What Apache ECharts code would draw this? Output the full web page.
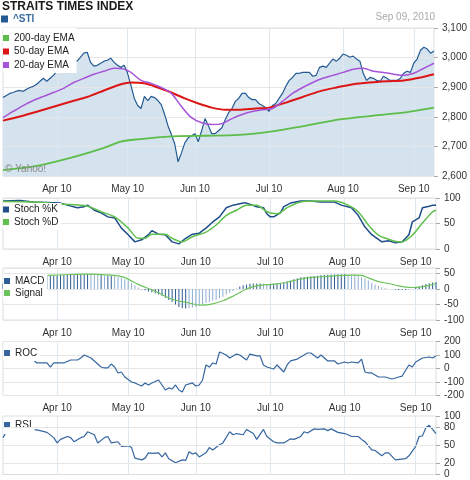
<!DOCTYPE html>
<html><head><meta charset="utf-8">
<script src="https://cdn.jsdelivr.net/npm/echarts@6/dist/echarts.min.js"></script>
<style>html,body{margin:0;padding:0;background:#fff}#c{width:470px;height:480px}</style>
</head><body><div id="c"></div>
<script>
// ---------- categories: SGX trading days, 10 Mar 2010 - 9 Sep 2010 ----------
const holidays = ['2010-04-02', '2010-05-28', '2010-08-09'];
const tradingDays = [];
for (let t = Date.UTC(2010, 2, 10); t <= Date.UTC(2010, 8, 9); t += 86400000) {
  const d = new Date(t), wd = d.getUTCDay(), s = d.toISOString().slice(0, 10);
  if (wd === 0 || wd === 6 || holidays.includes(s)) continue;
  tradingDays.push(s);
}
const monthLabels = ['Apr 10', 'May 10', 'Jun 10', 'Jul 10', 'Aug 10', 'Sep 10'];
const stiTicks = [2600, 2700, 2800, 2900, 3000, 3100];
const stochTicks = [0, 50, 100];
const macdTicks = [-100, -50, 0, 50];
const rocTicks = [-200, -100, 0, 100, 200];
const rsiTicks = [0, 20, 50, 80, 100];

// ---------- series values ----------
const sti = [2865, 2872, 2879, 2882, 2887, 2889, 2886, 2893, 2899, 2903,
  2910, 2920, 2930, 2920, 2930, 2940, 2954, 2964, 2971, 2978,
  2984, 2995, 2988, 3001, 3015, 3018, 2984, 2971, 2974, 2981,
  2988, 2991, 2998, 2984, 2974, 2967, 2974, 2947, 2906, 2862,
  2838, 2828, 2869, 2855, 2869, 2865, 2855, 2841, 2808, 2770,
  2740, 2709, 2648, 2678, 2712, 2729, 2736, 2743, 2716, 2753,
  2794, 2770, 2743, 2743, 2753, 2763, 2790, 2814, 2828, 2852,
  2862, 2879, 2879, 2865, 2858, 2858, 2845, 2838, 2831, 2818,
  2838, 2845, 2862, 2879, 2903, 2923, 2933, 2947, 2947, 2950,
  2950, 2950, 2937, 2940, 2967, 2971, 2967, 2981, 2995, 2988,
  2998, 3012, 3008, 3001, 3005, 2995, 2988, 2947, 2923, 2933,
  2930, 2923, 2920, 2937, 2930, 2923, 2923, 2923, 2930, 2947,
  2954, 2950, 2981, 2995, 3025, 3035, 3029, 3015, 3022];
const ema200 = [[0, 2620], [10, 2634], [20, 2661], [30, 2695], [35, 2716], [40, 2724], [50, 2734], [60, 2736], [70, 2739], [80, 2751], [90, 2770], [100, 2791], [110, 2804], [120, 2816], [128, 2831]];
const ema50 = [[0, 2787], [5, 2801], [10, 2817], [15, 2834], [20, 2851], [25, 2867], [30, 2889], [35, 2910], [38, 2916], [42, 2913], [46, 2899], [50, 2882], [54, 2862], [58, 2845], [62, 2831], [66, 2824], [70, 2824], [75, 2828], [79, 2831], [84, 2848], [89, 2867], [94, 2886], [99, 2899], [104, 2910], [109, 2916], [114, 2920], [119, 2923], [124, 2933], [128, 2944]];
const ema20 = [[0, 2797], [3, 2818], [6, 2838], [9, 2855], [12, 2869], [15, 2882], [18, 2896], [21, 2916], [24, 2930], [27, 2944], [30, 2954], [33, 2964], [36, 2961], [38, 2950], [41, 2923], [44, 2913], [47, 2899], [50, 2879], [53, 2835], [56, 2797], [59, 2780], [62, 2774], [65, 2777], [68, 2794], [71, 2808], [74, 2818], [77, 2824], [80, 2828], [83, 2852], [86, 2879], [89, 2899], [92, 2916], [95, 2930], [98, 2940], [101, 2950], [104, 2961], [107, 2964], [110, 2954], [113, 2950], [116, 2944], [119, 2940], [122, 2947], [125, 2964], [128, 2981]];
const stochK = [[0, 94], [5, 95], [9, 92], [17, 90], [19, 86], [22, 81], [24, 83], [25, 86], [27, 76], [29, 71], [31, 63], [33, 61], [35, 41], [37, 28], [39, 14], [41, 18], [43, 28], [44, 36], [46, 29], [48, 28], [50, 14], [52, 10], [54, 21], [56, 29], [58, 31], [60, 41], [62, 53], [64, 63], [66, 81], [68, 86], [71, 90], [72, 90], [75, 83], [77, 81], [78, 69], [79, 63], [80, 63], [82, 71], [83, 83], [85, 90], [88, 94], [91, 94], [94, 92], [98, 92], [100, 86], [103, 81], [105, 66], [107, 43], [109, 28], [112, 14], [114, 16], [116, 12], [118, 14], [120, 28], [121, 53], [123, 61], [124, 81], [126, 84], [127, 86], [128, 86]];
const stochD = [[0, 93], [9, 92], [17, 88], [25, 84], [29, 73], [33, 63], [37, 41], [40, 21], [42, 21], [44, 29], [48, 29], [50, 21], [53, 14], [56, 24], [60, 33], [63, 47], [66, 66], [69, 76], [72, 86], [75, 86], [78, 73], [81, 69], [84, 81], [88, 92], [93, 94], [98, 94], [102, 86], [105, 73], [108, 47], [111, 27], [114, 19], [117, 14], [118, 14], [121, 27], [124, 51], [127, 73], [128, 76]];
const macd = [18, 20, 22, 25, 27, 29, 31, 33, 35, 36, 37, 38,
  40, 41, 42, 43, 44, 45, 45, 46, 46, 47, 47, 48,
  49, 49, 48, 46, 45, 45, 44, 44, 44, 42, 39, 36,
  32, 27, 20, 12, 5, -2, -4, -8, -10, -14, -18, -22,
  -28, -35, -42, -50, -58, -62, -63, -62, -60, -58, -55, -50,
  -45, -42, -38, -35, -30, -25, -18, -12, -6, 2, 8, 12,
  15, 17, 18, 18, 18, 17, 16, 16, 17, 18, 19, 20,
  24, 28, 32, 35, 38, 39, 40, 41, 42, 43, 45, 46,
  46, 47, 47, 48, 48, 49, 48, 47, 46, 44, 38, 34,
  28, 20, 15, 10, 6, 3, 1, 0, -2, -3, -3, -3,
  -2, 0, 4, 8, 12, 16, 19, 21, 23];
const signal = [[0, 8], [3, 20], [6, 30], [9, 37], [12, 42], [15, 45], [20, 47], [25, 48], [30, 46], [33, 44], [36, 37], [40, 15], [45, -7], [50, -33], [55, -45], [57, -50], [59, -52], [62, -48], [65, -38], [68, -23], [69, -17], [72, 0], [75, 10], [78, 14], [81, 17], [84, 22], [87, 30], [90, 36], [93, 39], [97, 42], [101, 44], [104, 45], [106, 44], [108, 36], [111, 24], [114, 18], [117, 10], [119, 6], [121, 5], [124, 8], [126, 12], [128, 18]];
const roc = [[0, 100], [3, 90], [6, 75], [9, 63], [10, 41], [13, 41], [14, 11], [15, 41], [18, 41], [20, 63], [22, 63], [23, 78], [24, 100], [26, 78], [27, 56], [29, 11], [30, 4], [31, 4], [32, 33], [33, 11], [34, -33], [35, -26], [36, -63], [38, -100], [39, -107], [41, -130], [42, -107], [43, -122], [44, -107], [46, -85], [47, -122], [48, -159], [49, -144], [50, -152], [51, -122], [52, -159], [53, -174], [54, -122], [56, -107], [57, -130], [58, -122], [59, -85], [60, 26], [61, 11], [62, 41], [63, 33], [64, 122], [66, 100], [67, 78], [69, 107], [70, 100], [72, 63], [73, 107], [75, 93], [76, 93], [77, 26], [78, 11], [80, -4], [81, 26], [83, -26], [84, 26], [85, 56], [87, 70], [88, 85], [90, 115], [91, 115], [93, 78], [94, 100], [96, 56], [98, 56], [99, 33], [101, 48], [102, 41], [103, 48], [105, 41], [106, 70], [107, -26], [108, -33], [109, -33], [111, -63], [113, -63], [115, -78], [117, -63], [118, -56], [120, 26], [121, 11], [122, 48], [124, 78], [126, 85], [127, 78], [128, 93]];
const rsi = [[0, 63], [1, 73], [2, 78], [4, 76], [9, 77], [11, 75], [13, 72], [15, 63], [16, 54], [17, 60], [19, 65], [20, 63], [21, 56], [23, 63], [24, 65], [25, 73], [27, 68], [28, 54], [30, 63], [31, 65], [32, 54], [34, 56], [35, 48], [37, 49], [38, 46], [39, 28], [41, 25], [42, 28], [43, 37], [44, 36], [46, 37], [47, 30], [48, 37], [49, 27], [51, 20], [53, 25], [54, 24], [55, 39], [56, 35], [57, 37], [58, 30], [60, 37], [61, 46], [62, 42], [64, 51], [65, 54], [67, 73], [68, 68], [69, 70], [71, 68], [72, 77], [74, 70], [75, 60], [77, 77], [78, 65], [80, 56], [81, 54], [83, 54], [85, 61], [86, 60], [88, 65], [89, 73], [90, 71], [92, 78], [93, 77], [95, 78], [96, 75], [97, 78], [99, 72], [101, 70], [102, 68], [103, 65], [105, 65], [106, 60], [107, 56], [109, 42], [110, 41], [112, 32], [113, 37], [114, 37], [116, 25], [119, 27], [120, 32], [122, 48], [123, 65], [124, 66], [125, 80], [126, 84], [127, 77], [128, 70]];

// ---------- chart ----------
const monthStartIdx = tradingDays
  .map((d, i) => (i > 0 && d.slice(5, 7) !== tradingDays[i - 1].slice(5, 7)) ? i : -1)
  .filter(i => i >= 0);
const isMonthStart = i => monthStartIdx.includes(i);

const FONT = '"Liberation Sans", Arial, sans-serif';
const grids = [
  { top: 28, height: 148 },
  { top: 198, height: 51 },
  { top: 268, height: 52 },
  { top: 341.5, height: 54 },
  { top: 416, height: 58.5 }
];
const xAxes = grids.map((g, k) => ({
  type: 'category', gridIndex: k, data: tradingDays, boundaryGap: false, z: 2,
  axisLine: { show: false }, axisTick: { show: false },
  axisLabel: {
    show: k < 4, interval: (i) => isMonthStart(i),
    formatter: (v, i) => monthLabels[monthStartIdx.indexOf(i)] || '',
    color: '#333', fontSize: 10, fontFamily: FONT, margin: 8
  },
  splitLine: { show: true, interval: (i) => isMonthStart(i), lineStyle: { color: '#dfe7ef', width: 1 } }
}));
const labelBase = { color: '#333', fontSize: 10, fontFamily: FONT, margin: 8 };
const yBase = (k, extra) => Object.assign({
  type: 'value', gridIndex: k, position: 'right', z: 2,
  axisLine: { show: false },
  axisTick: { show: true, length: 4, lineStyle: { color: '#aaa' } },
  axisLabel: labelBase,
  splitLine: { show: true, lineStyle: { color: '#e6e6e6', width: 1 } }
}, extra);
const yAxes = [
  yBase(0, { min: stiTicks[0], max: stiTicks[stiTicks.length - 1], interval: 100,
    axisLabel: Object.assign({}, labelBase, { formatter: v => v.toLocaleString('en-US') }) }),
  yBase(1, { min: stochTicks[0], max: stochTicks[stochTicks.length - 1], interval: 50 }),
  yBase(2, { min: -100, max: 68, interval: 50,
    axisLabel: Object.assign({}, labelBase, { formatter: v => macdTicks.includes(v) ? String(v) : '' }) }),
  yBase(3, { min: rocTicks[0], max: rocTicks[rocTicks.length - 1], interval: 100 }),
  yBase(4, { min: 0, max: 100,
    axisTick: { show: true, length: 4, lineStyle: { color: '#aaa' }, customValues: rsiTicks },
    axisLabel: Object.assign({}, labelBase, { customValues: rsiTicks }),
    splitLine: { show: false } })
];

const line = (name, data, xi, color, width, extra) => Object.assign({
  name, type: 'line', data, xAxisIndex: xi, yAxisIndex: xi, symbol: 'none', z: 3,
  lineStyle: { color, width }, itemStyle: { color }
}, extra || {});

const legendText = { fontSize: 10, lineHeight: 12, color: '#222', fontFamily: FONT };
const option = {
  animation: false,
  backgroundColor: '#fff',
  grid: grids.map(g => ({ left: 3, right: 34, top: g.top, height: g.height, show: true, borderColor: '#d9dde2', borderWidth: 1 })),
  xAxis: xAxes,
  yAxis: yAxes,
  legend: [
    { data: ['^STI'], left: 1, top: 13, padding: 0, itemWidth: 7, itemHeight: 7, icon: 'rect',
      textStyle: { fontSize: 10, lineHeight: 12, fontWeight: 'bold', color: '#3a6c9f', fontFamily: FONT } },
    { data: ['200-day EMA', '50-day EMA', '20-day EMA'], orient: 'vertical', left: 3, top: 28, padding: [4, 2, 2, 0],
      itemGap: 1.5, itemWidth: 6, itemHeight: 6, icon: 'rect', backgroundColor: '#fff', textStyle: legendText },
    { data: ['Stoch %K', 'Stoch %D'], orient: 'vertical', left: 3, top: 203, padding: [0.5, 3, 2, 0],
      itemGap: 0.5, itemWidth: 6, itemHeight: 6, icon: 'rect', backgroundColor: '#fff', textStyle: legendText },
    { data: [{ name: 'MACD', itemStyle: { color: '#2c5c94' } }, 'Signal'], orient: 'vertical', left: 3, top: 274, padding: [1, 3, 2, 1],
      itemGap: 0, itemWidth: 6, itemHeight: 6, icon: 'rect', backgroundColor: '#fff', textStyle: legendText },
    { data: ['ROC'], left: 3, top: 347, padding: [0, 3, 2, 1], itemWidth: 6, itemHeight: 6, icon: 'rect',
      backgroundColor: '#fff', textStyle: legendText },
    { data: ['RSI'], left: 3, top: 419, padding: [0, 3, 3, 1], itemWidth: 6, itemHeight: 6, icon: 'rect',
      backgroundColor: '#fff', textStyle: legendText }
  ],
  graphic: [
    { type: 'text', left: 2, top: 1, style: { text: 'STRAITS TIMES INDEX', font: 'bold 12px ' + FONT, fill: '#1a1a1a' } },
    { type: 'text', right: 35, top: 12, style: { text: 'Sep 09, 2010', font: '10px ' + FONT, fill: '#aaaaaa' } },
    { type: 'text', left: 5, top: 164, z: 10, style: { text: '\u00a9 Yahoo!', font: '10px ' + FONT, fill: '#888888' } }
  ],
  series: [
    { name: 'STI area', type: 'line', data: sti, xAxisIndex: 0, yAxisIndex: 0, symbol: 'none', z: 1, silent: true,
      lineStyle: { width: 0 }, areaStyle: { color: '#d5e3ee', origin: 'start', opacity: 1 } },
    line('^STI', sti, 0, '#245a93', 1.2),
    line('200-day EMA', ema200, 0, '#5cbd48', 1.8, { smooth: 0.3 }),
    line('50-day EMA', ema50, 0, '#dc1515', 2, { smooth: 0.3 }),
    line('20-day EMA', ema20, 0, '#a653d8', 1.5, { smooth: 0.3 }),
    line('Stoch %K', stochK, 1, '#1f4e8a', 1.5),
    line('Stoch %D', stochD, 1, '#5fc04b', 1.5, { smooth: 0.3 }),
    { name: 'MACD', type: 'bar', data: macd, xAxisIndex: 2, yAxisIndex: 2, barWidth: 1, z: 2,
      itemStyle: { color: p => {
        const v = macd[p.dataIndex], pv = p.dataIndex > 0 ? macd[p.dataIndex - 1] : v;
        return Math.abs(v) >= Math.abs(pv) ? '#2c5c94' : '#8cadd2';
      } } },
    line('Signal', signal, 2, '#6cc35a', 1.2, { smooth: 0.3 }),
    line('ROC', roc, 3, '#3566a0', 1.2),
    line('RSI', rsi, 4, '#3566a0', 1.2, {
      markLine: { silent: true, symbol: 'none', label: { show: false },
        lineStyle: { color: '#e6e6e6', width: 1, type: 'solid' },
        data: [{ yAxis: 20 }, { yAxis: 50 }, { yAxis: 80 }] } })
  ]
};
const chart = echarts.init(document.getElementById('c'), null, { renderer: 'canvas' });
chart.setOption(option);
</script>
</body></html>
